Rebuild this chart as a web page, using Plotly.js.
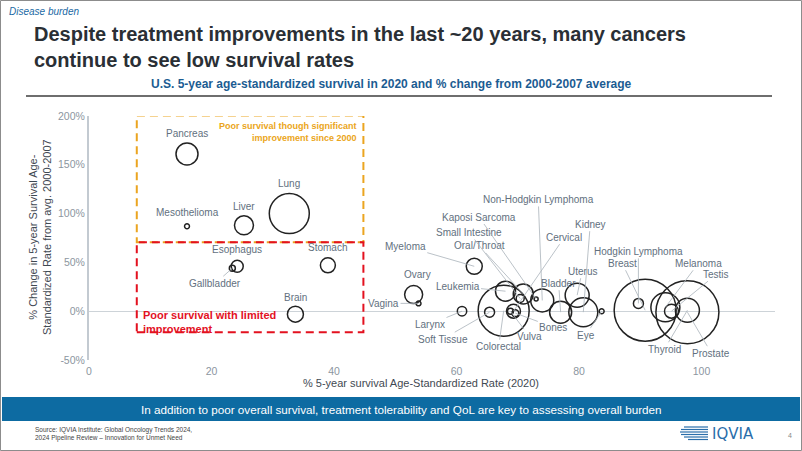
<!DOCTYPE html>
<html>
<head>
<meta charset="utf-8">
<script src="https://cdn.plot.ly/plotly-3.0.1.min.js"></script>
<style>
html,body{margin:0;padding:0;background:#fff;}
#chart{width:802px;height:451px;}
</style>
</head>
<body>
<div id="chart"></div>
<script>
// ---------------- DATA ----------------
const cancers = ["Pancreas","Mesothelioma","Liver","Lung","Esophagus","Gallbladder","Stomach","Brain",
  "Myeloma","Ovary","Vagina","Larynx","Soft Tissue","Colorectal","Leukemia","Oral/Throat","Small Intestine",
  "Kaposi Sarcoma","Non-Hodgkin Lymphoma","Cervical","Vulva","Bones","Bladder","Uterus","Kidney","Eye",
  "Hodgkin Lymphoma","Breast","Melanoma","Testis","Thyroid","Prostate"];
// 5-year age-standardized survival in 2020 (%)
const survival2020 = [16.0,16.0,25.3,32.7,24.2,23.4,39.0,33.7,
  62.9,53.0,53.8,60.9,65.4,67.7,68.0,70.9,70.4,
  73.0,74.0,69.3,68.8,69.6,77.0,79.7,80.7,83.7,
  89.7,90.8,94.1,95.1,97.7,97.7];
// % change from 2000-2007 average
const pctChange = [161,87,88,100,46,44,47,-3,
  46,17,8,0,-1,0.5,20.5,17.7,13,
  12.5,11,0,0,-2,-1,16.4,-1,0,
  8,1,4,0,1,-1];
// relative bubble size (area units)
const bubbleArea = [121,6,90,400,36,9,56,64,
  64,81,6,22,25,650,100,100,16,
  4,132,49,9,12,121,144,210,6,
  25,961,210,49,144,992];
const xTicks = [0,20,40,60,80,100];
const yTicks = [-50,0,50,100,150,200];
const yTickText = ["-50%","0%","50%","100%","150%","200%"];

// ---------------- LAYOUT HELPERS ----------------
const ML=89, MR=27, MT=116, MB=91, W=802, H=451;
const PW=W-ML-MR, PH=H-MT-MB;
const px = v => (v-ML)/PW;
const py = v => (MT+PH-v)/PH;

const FONT = '"Liberation Sans", Arial, sans-serif';
const NARROW = '"Liberation Sans Narrow", "Arial Narrow", "Liberation Sans", Arial, sans-serif';
const labelColor = '#62707e';
const leaderColor = '#aab2ba';

// label placement (pixel offsets from bubble centre), arrow = leader line
const labelPlace = {
  "Pancreas":[0,-21,false],"Mesothelioma":[0,-14,false],"Liver":[0,-19,false],"Lung":[0,-30,false],
  "Esophagus":[0,-17,false],"Gallbladder":[-17,15,true],"Stomach":[0,-18,false],"Brain":[0,-17,false],
  "Myeloma":[-69,-20,true],"Ovary":[4,-20,false],"Vagina":[-35,0,true],"Larynx":[-32,13,true],
  "Soft Tissue":[-47,27,true],"Colorectal":[-5,36,true],"Leukemia":[-48,-5,true],"Oral/Throat":[-44,-48,true],
  "Small Intestine":[-51,-66,true],"Kaposi Sarcoma":[-57,-82,true],"Non-Hodgkin Lymphoma":[-4,-101,true],
  "Cervical":[51,-74,true],"Vulva":[19,25,true],"Bones":[38,14,true],"Bladder":[-2,-29,true],
  "Uterus":[5,-24,true],"Kidney":[7,-88,true],"Eye":[-16,24,true],"Hodgkin Lymphoma":[0,-52,true],
  "Breast":[-23,-47,true],"Melanoma":[33,-44,true],"Testis":[45,-37,true],"Thyroid":[-23,39,true],
  "Prostate":[24,41,true]
};

const annotations = [];
cancers.forEach((c,i)=>{
  const p = labelPlace[c];
  if (p[2]) {
    annotations.push({x:survival2020[i], y:pctChange[i], xref:'x', yref:'y', text:c,
      showarrow:true, ax:p[0], ay:p[1], arrowhead:0, arrowwidth:0.8, arrowcolor:leaderColor,
      standoff:0, borderpad:1, font:{family:FONT,size:10,color:labelColor}});
  } else {
    annotations.push({x:survival2020[i], y:pctChange[i], xref:'x', yref:'y', text:c,
      xanchor:'center', yanchor:'middle',
      showarrow:false, xshift:p[0], yshift:-p[1], font:{family:FONT,size:10,color:labelColor}});
  }
});

function note(o){ annotations.push(Object.assign({xref:'paper',yref:'paper',showarrow:false,
  xanchor:'center',yanchor:'middle'},o)); }

// box captions
note({x:px(359),y:py(119),xanchor:'right',yanchor:'top',align:'right',
  text:'<b>Poor survival though significant<br>improvement since 2000</b>',
  font:{family:FONT,size:9,color:'#eba520'}});
note({x:px(141),y:py(307),xanchor:'left',yanchor:'top',align:'left',
  text:'<b>Poor survival with limited<br>improvement</b>',
  font:{family:FONT,size:11,color:'#e3111f'}});

// axis titles
note({x:px(40),y:py(237),textangle:-90,
  text:'% Change in 5-year Survival Age-<br>Standardized Rate from avg. 2000-2007',
  font:{family:FONT,size:11,color:'#3f4952'}});
note({x:px(421),y:py(383),
  text:'% 5-year survival Age-Standardized Rate (2020)',
  font:{family:FONT,size:11,color:'#3f4952'}});

// slide texts
note({x:px(7),y:py(11),xanchor:'left',
  text:'<i>Disease burden</i>',font:{family:FONT,size:10,color:'#2169a4'}});
note({x:px(32),y:py(21),xanchor:'left',yanchor:'top',align:'left',
  text:'<b>Despite treatment improvements in the last ~20 years, many cancers<br>continue to see low survival rates</b>',
  font:{family:FONT,size:20,color:'#2a2f35'}});
note({x:px(391),y:py(84),
  text:'<b>U.S. 5-year age-standardized survival in 2020 and % change from 2000-2007 average</b>',
  font:{family:NARROW,size:12,color:'#1b5c92'}});
note({x:px(401),y:py(409),
  text:'In addition to poor overall survival, treatment tolerability and QoL are key to assessing overall burden',
  font:{family:NARROW,size:11.7,color:'#ffffff'}});
note({x:px(33),y:py(424),xanchor:'left',yanchor:'top',align:'left',
  text:'Source: IQVIA Institute: Global Oncology Trends 2024,<br>2024 Pipeline Review – Innovation for Unmet Need',
  font:{family:NARROW,size:6.5,color:'#444'}});
note({x:px(710),y:py(434),xanchor:'left',
  text:'IQVIA',font:{family:'"DejaVu Sans", sans-serif',size:15,color:'#2a6eaa'}});
note({x:px(790),y:py(435),
  text:'4',font:{family:FONT,size:7,color:'#888'}});

const shapes = [
  // slide frame
  {type:'rect',xref:'paper',yref:'paper',x0:px(0.5),x1:px(801.5),y0:py(0.5),y1:py(450.5),line:{color:'#8c8c8c',width:1}},
  // rule under subtitle
  {type:'line',xref:'paper',yref:'paper',x0:px(26),x1:px(772),y0:py(96),y1:py(96),line:{color:'#6e6e6e',width:2}},
  // banner
  {type:'rect',xref:'paper',yref:'paper',x0:px(2),x1:px(800),y0:py(421),y1:py(397),fillcolor:'#0d6ba2',line:{width:0},layer:'below'},
  // highlight boxes
  {type:'rect',xref:'x',yref:'y',x0:7.8,x1:44.8,y0:70.6,y1:200.6,line:{color:'#eba520',width:2,dash:'8px,5px'}},
  {type:'rect',xref:'x',yref:'y',x0:7.8,x1:44.8,y0:-21.5,y1:70.6,line:{color:'#e3111f',width:2,dash:'8px,5px'}}
];
// IQVIA logo stripes
[[427,684,708],[429.5,681,708],[432,680,708],[434.5,681,708],[437,684,708],[439.5,688,708]].forEach(s=>{
  shapes.push({type:'line',xref:'paper',yref:'paper',x0:px(s[1]),x1:px(s[2]),y0:py(s[0]),y1:py(s[0]),
    line:{color:'#2a6eaa',width:1.2}});
});

const trace = {
  type:'scatter', mode:'markers', x:survival2020, y:pctChange, text:cancers,
  hoverinfo:'text', cliponaxis:false,
  marker:{size:bubbleArea, sizemode:'area', sizeref:0.5, color:'rgba(0,0,0,0)', opacity:1,
    line:{color:'#222222', width:1.5}}
};

const layout = {
  width:W, height:H, margin:{l:ML,r:MR,t:MT,b:MB,pad:0},
  paper_bgcolor:'#fff', plot_bgcolor:'rgba(0,0,0,0)', showlegend:false,
  xaxis:{range:[0,112], tickvals:xTicks, showgrid:false, zeroline:false, showline:false, ticks:'',
    ticklabelstandoff:3,
    tickfont:{family:FONT,size:10.5,color:'#8c96a0'}, fixedrange:true},
  yaxis:{range:[-50,200], tickvals:yTicks, ticktext:yTickText, showgrid:false, zeroline:true,
    zerolinecolor:'#cdd3d8', zerolinewidth:1, showline:true, linecolor:'#c3cad1', linewidth:2, ticks:'',
    tickfont:{family:FONT,size:10.5,color:'#8c96a0'}, fixedrange:true},
  shapes:shapes, annotations:annotations
};

Plotly.newPlot('chart',[trace],layout,{displayModeBar:false,staticPlot:true});
</script>
</body>
</html>
